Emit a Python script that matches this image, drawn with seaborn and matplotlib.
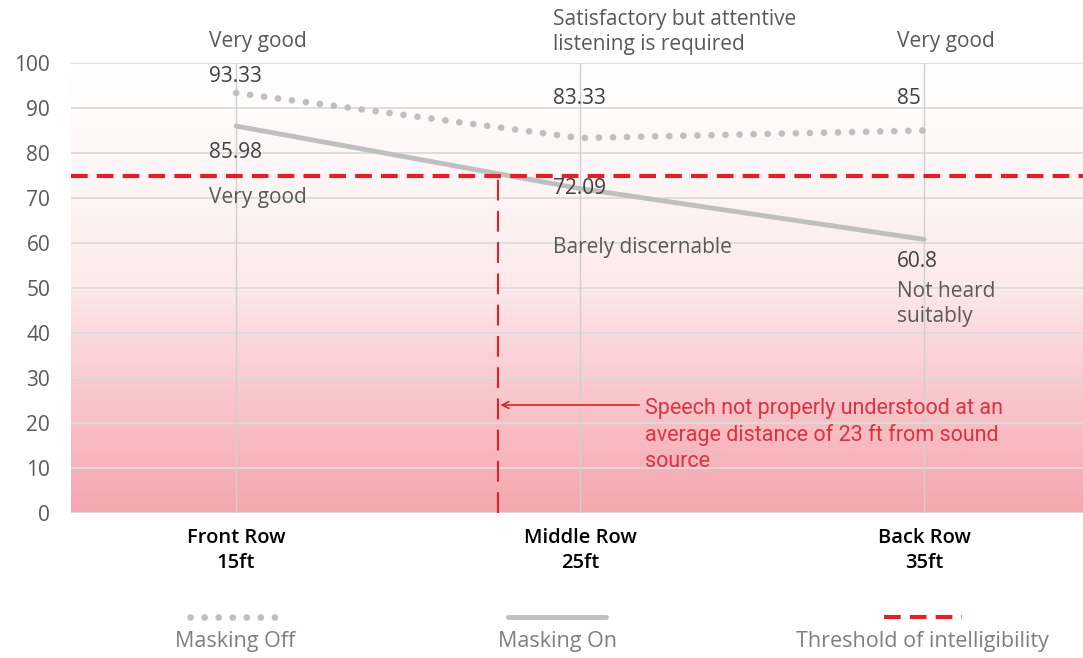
import numpy as np
import pandas as pd
import matplotlib
matplotlib.use("Agg")
import matplotlib.pyplot as plt
from matplotlib.colors import LinearSegmentedColormap
from matplotlib.lines import Line2D
import seaborn as sns

# ---- data ----
categories = ["Front Row\n15ft", "Middle Row\n25ft", "Back Row\n35ft"]
masking_off = [93.33, 83.33, 85.0]
masking_on = [85.98, 72.09, 60.8]
off_labels = ["93.33", "83.33", "85"]
on_labels = ["85.98", "72.09", "60.8"]
off_ratings = ["Very good", "Satisfactory but attentive\nlistening is required", "Very good"]
on_ratings = ["Very good", "Barely discernable", "Not heard\nsuitably"]
threshold = 75
threshold_cross = 0.76  # position (in row units) where Masking On meets threshold
y_ticks = [0, 10, 20, 30, 40, 50, 60, 70, 80, 90, 100]
legend_labels = ["Masking Off", "Masking On", "Threshold of intelligibility"]
note_text = "Speech not properly understood at an\naverage distance of 23 ft from sound\nsource"

sns.set_theme(style="white")
plt.rcParams["font.family"] = ["Open Sans", "DejaVu Sans"]

W, H = 1083, 658
fig = plt.figure(figsize=(W / 100, H / 100), dpi=100)
ax = fig.add_axes([71 / W, 1 - 513 / H, (W - 71) / W, 450 / H])

x = np.arange(len(categories))
df = pd.DataFrame({"x": x, "off": masking_off, "on": masking_on})

# gradient background
cmap = LinearSegmentedColormap.from_list(
    "pinkfade",
    [(0.0, "#f5a6ae"), (0.2, "#f8bfc5"), (0.4, "#fbd9dc"),
     (0.5, "#fce9ea"), (0.7, "#fdf4f3"), (1.0, "#ffffff")])
grad = np.linspace(0, 1, 256).reshape(-1, 1)
xl = (-0.48, 2.462)
ax.imshow(grad, extent=[xl[0], xl[1], 0, 100], origin="lower", aspect="auto",
          cmap=cmap, zorder=0)

ax.set_xlim(*xl)
ax.set_ylim(0, 100)

# grid
for yv in y_ticks:
    ax.axhline(yv, color="#dcdcdc", lw=1.3, zorder=1)
for xv in x:
    ax.axvline(xv, color="#d0d0d0", lw=1.0, zorder=1)

gray = "#bfbfbf"
red = "#e0202b"

sns.lineplot(data=df, x="x", y="off", ax=ax, color=gray, lw=4.8,
             linestyle=(0, (0.01, 2.1)), dash_capstyle="round", zorder=3)
sns.lineplot(data=df, x="x", y="on", ax=ax, color=gray, lw=3.5, zorder=3)

ax.axhline(threshold, color=red, lw=3, dashes=(4, 2.2), zorder=4)
ax.vlines(threshold_cross, 0, threshold, color=red, lw=1.5, linestyles=(0, (10, 5)), zorder=4)

# arrow + note
ax.annotate("", xy=(threshold_cross, 24), xytext=(1.18, 24),
            arrowprops=dict(arrowstyle="->", color=red, lw=1.2), zorder=5)
ax.text(1.19, 25.6, note_text, color="#dc3340", fontsize=15.5, va="top",
        ha="left", linespacing=1.3, family=["Roboto", "DejaVu Sans"])

txt = "#595959"
fs = 15
dx = -0.08
off_label_y = [96.9, 92.2, 92.2]
off_rating_y = [104.7, 106.8, 104.7]
on_label_y = [80.2, 72.2, 55.8]
on_rating_y = [70.2, 59.1, 46.4]
for i in range(3):
    ax.text(x[i] + dx, off_label_y[i], off_labels[i], fontsize=fs, color="#404040",
            va="center", ha="left", clip_on=False)
    ax.text(x[i] + dx, off_rating_y[i], off_ratings[i], fontsize=fs, color=txt,
            va="center", ha="left", clip_on=False, linespacing=1.25)
    ax.text(x[i] + dx, on_label_y[i], on_labels[i], fontsize=fs, color="#404040",
            va="center", ha="left", clip_on=False)
    ax.text(x[i] + dx, on_rating_y[i], on_ratings[i], fontsize=fs, color=txt,
            va="center", ha="left", clip_on=False, linespacing=1.25)

ax.set_xticks(x)
ax.set_xticklabels(categories, fontsize=14.5, color="#000000", linespacing=1.3,
                   fontweight="semibold")
ax.set_yticks(y_ticks)
ax.set_yticklabels([str(v) for v in y_ticks], fontsize=15, color=txt)
ax.tick_params(axis="x", length=0, pad=11)
ax.tick_params(axis="y", length=0, pad=15)
ax.set_xlabel("")
ax.set_ylabel("")
for s in ax.spines.values():
    s.set_visible(False)

# legend (handles above labels)
leg_centers = [235, 558, 922]
hy = 1 - 617 / H
ty = 1 - 641 / H
handles = [
    dict(color=gray, lw=4.8, linestyle=(0, (0.01, 2.1)), dash_capstyle="round", x0=190, x1=280),
    dict(color=gray, lw=3.5, linestyle="-", x0=508, x1=606),
    dict(color=red, lw=3, linestyle=(0, (4, 2.2)), x0=884, x1=962),
]
for c, lab, h in zip(leg_centers, legend_labels, handles):
    kw = {k: v for k, v in h.items() if k not in ("x0", "x1")}
    fig.add_artist(Line2D([h["x0"] / W, h["x1"] / W], [hy, hy], transform=fig.transFigure, **kw))
    fig.text(c / W, ty, lab, ha="center", va="center", fontsize=15.5, color="#7f7f7f")

fig.savefig("out.png", dpi=100)
